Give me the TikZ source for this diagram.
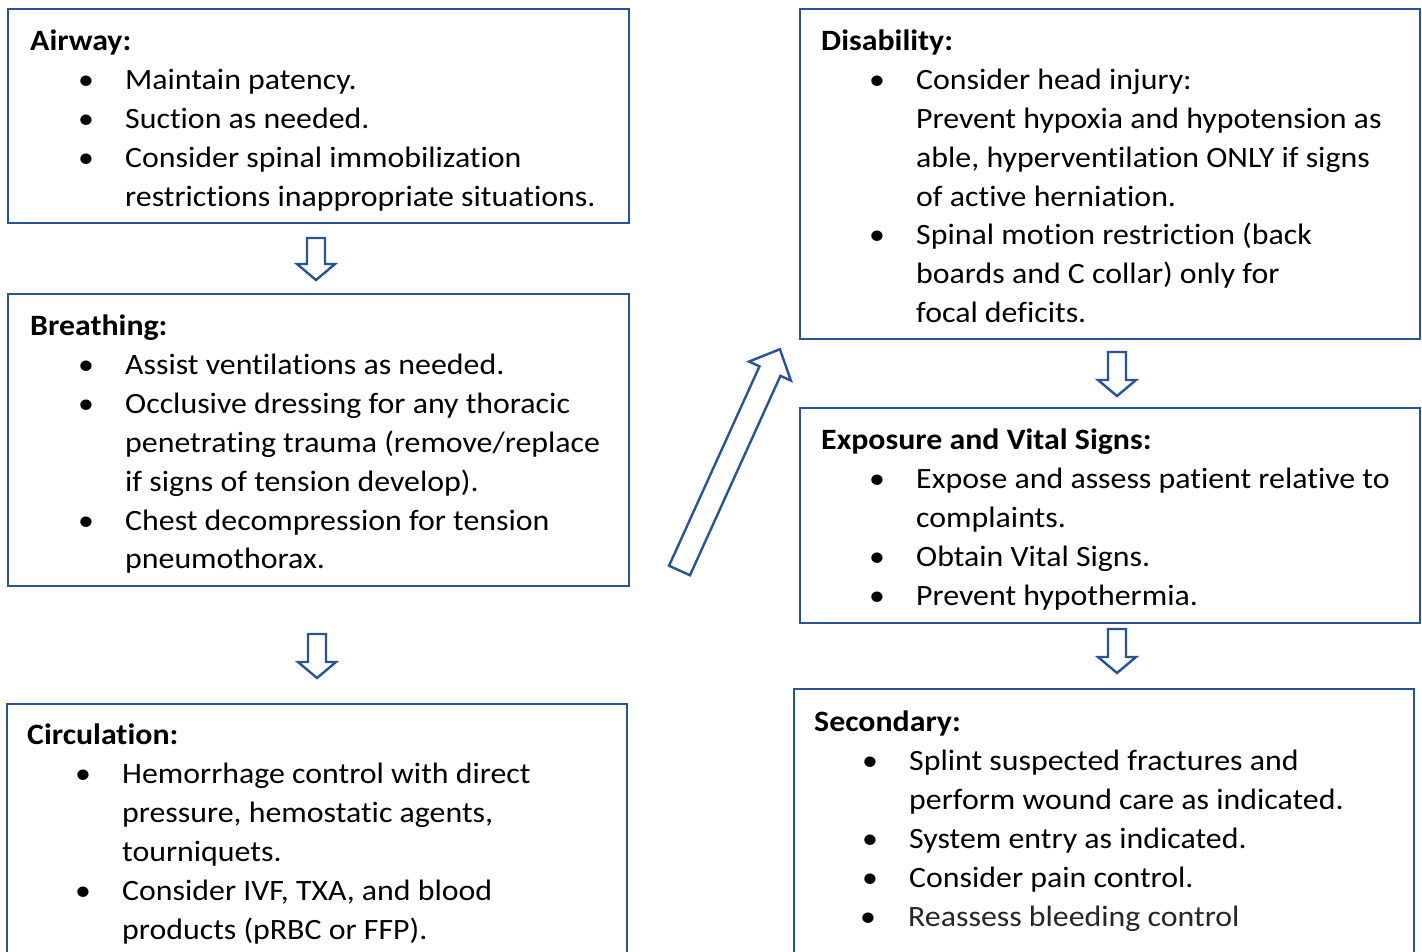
\documentclass[tikz,border=0pt]{standalone}
\usepackage{fontspec}
\setmainfont{Carlito}[FakeStretch=1.08, Ligatures={NoCommon}]
\definecolor{boxblue}{RGB}{38,84,150}
\tikzset{
  boxframe/.style={draw=boxblue, line width=2.2pt, fill=white, anchor=north west, inner sep=0pt, outer sep=0pt},
  boxtext/.style={anchor=base west, inner sep=0pt, font=\fontsize{29.5}{38.9}\selectfont, align=left},
  blockarr/.style={draw=boxblue, line width=2.4pt, line join=miter, fill=white},
}
\newcommand\bl[1]{\makebox[95pt][l]{\hspace{48pt}\textbullet}#1}
\newcommand\ct[1]{\hspace{95pt}#1}
\newcommand\blockarrow[6]{%
  \begin{scope}[shift={#1}, rotate=#2]
    \draw[blockarr] (0,{-#4/2}) -- ({#3-#6},{-#4/2}) -- ({#3-#6},{-#5/2}) -- (#3,0)
      -- ({#3-#6},{#5/2}) -- ({#3-#6},{#4/2}) -- (0,{#4/2}) -- cycle;
  \end{scope}}
\begin{document}
\begin{tikzpicture}[x=1pt, y=-1pt]
\useasboundingbox (0,0) rectangle (1422,952);
\clip (0,0) rectangle (1422,952);
\fill[white] (0,0) rectangle (1422,952);

% boxes
\node[boxframe, minimum width=621pt, minimum height=214pt] (airway) at (8,9) {};
\node[boxframe, minimum width=621pt, minimum height=292pt] (breathing) at (8,294) {};
\node[boxframe, minimum width=620pt, minimum height=270pt] (circulation) at (7,704) {};
\node[boxframe, minimum width=620pt, minimum height=330pt] (disability) at (800,9) {};
\node[boxframe, minimum width=620pt, minimum height=215pt] (exposure) at (800,408) {};
\node[boxframe, minimum width=620pt, minimum height=290pt] (secondary) at (794,689) {};

% texts (base anchor = baseline of the last line)
\node[boxtext] (airwayT) at (30,206.1) {\textbf{Airway:}\\
\bl{Maintain patency.}\\
\bl{Suction as needed.}\\
\bl{Consider spinal immobilization}\\
\ct{restrictions inappropriate situations.}};

\node[boxtext] (breathingT) at (30,568.9) {\textbf{Breathing:}\\
\bl{Assist ventilations as needed.}\\
\bl{Occlusive dressing for any thoracic}\\
\ct{penetrating trauma (remove/replace}\\
\ct{if signs of tension develop).}\\
\bl{Chest decompression for tension}\\
\ct{pneumothorax.}};

\node[boxtext] (circulationT) at (27,939) {\textbf{Circulation:}\\
\bl{Hemorrhage control with direct}\\
\ct{pressure, hemostatic agents,}\\
\ct{tourniquets.}\\
\bl{Consider IVF, TXA, and blood}\\
\ct{products (pRBC or FFP).}};

\node[boxtext] (disabilityT) at (821,322.8) {\textbf{Disability:}\\
\bl{Consider head injury:}\\
\ct{Prevent hypoxia and hypotension as}\\
\ct{able, hyperventilation ONLY if signs}\\
\ct{of active herniation.}\\
\bl{Spinal motion restriction (back}\\
\ct{boards and C collar) only for}\\
\ct{focal deficits.}};

\node[boxtext] (exposureT) at (821,605.1) {\textbf{Exposure and Vital Signs:}\\
\bl{Expose and assess patient relative to}\\
\ct{complaints.}\\
\bl{Obtain Vital Signs.}\\
\bl{Prevent hypothermia.}};

\node[boxtext] (secondaryT) at (814,926) {\textbf{Secondary:}\\
\bl{Splint suspected fractures and}\\
\ct{perform wound care as indicated.}\\
\bl{System entry as indicated.}\\
\bl{Consider pain control.}\\
\makebox[94pt][l]{\hspace{46pt}\textbullet}\textcolor{black!85}{Reassess bleeding control}};

% block arrows
\blockarrow{(316,238)}{-90}{42}{18}{38}{16}
\blockarrow{(317,634)}{-90}{44}{18}{38}{16}
\blockarrow{(1117,352)}{-90}{44}{18}{38}{16}
\blockarrow{(1117,629)}{-90}{44}{18}{38}{16}
\blockarrow{(679.5,570.5)}{65.6}{243}{23}{46}{24}
\end{tikzpicture}
\end{document}
